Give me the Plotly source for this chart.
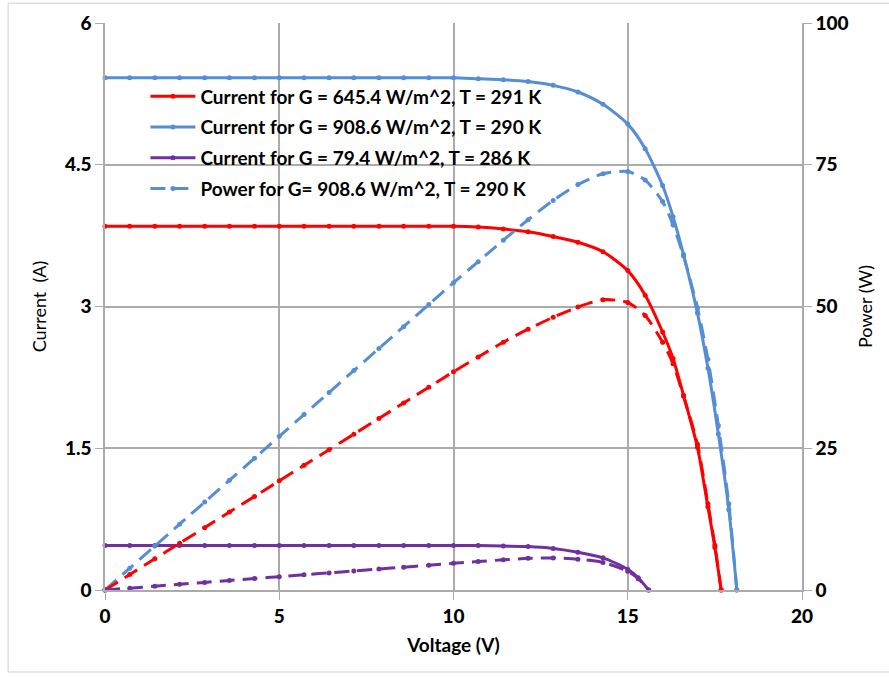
import plotly.graph_objects as go

# ---- data ----
v_grid = [0, 0.71, 1.43, 2.14, 2.86, 3.57, 4.29, 5.0, 5.71, 6.43, 7.14, 7.86, 8.57,
          9.29, 10.0, 10.71, 11.43, 12.14, 12.86, 13.57, 14.29, 15.0]

# Blue: G = 908.6 W/m^2, T = 290 K
v_blue = v_grid + [15.5, 16.0, 16.3, 16.6, 17.0, 17.3, 17.6, 17.9, 18.13]
i_blue = [5.42] * 15 + [5.41, 5.40, 5.38, 5.34, 5.27, 5.14, 4.93,
                        4.67, 4.28, 3.95, 3.55, 2.93, 2.35, 1.65, 0.85, 0.0]
p_blue = [0, 3.85, 7.75, 11.6, 15.5, 19.35, 23.25, 27.1, 30.95, 34.85, 38.7, 42.6,
          46.45, 50.35, 54.2, 57.9, 61.7, 65.3, 68.7, 71.5, 73.4, 73.8,
          72.3, 68.5, 64.4, 58.9, 49.8, 40.7, 29.0, 15.2, 0.0]

# Red: G = 645.4 W/m^2, T = 291 K
v_red = v_grid + [15.5, 16.0, 16.3, 16.6, 17.0, 17.3, 17.5, 17.68]
i_red = [3.85] * 15 + [3.84, 3.82, 3.79, 3.74, 3.68, 3.58, 3.38,
                       3.12, 2.73, 2.45, 2.06, 1.51, 0.88, 0.45, 0.0]
p_red = [0, 2.73, 5.51, 8.24, 11.0, 13.74, 16.5, 19.25, 21.98, 24.75, 27.49, 30.26,
         32.99, 35.77, 38.5, 41.1, 43.7, 46.0, 48.1, 49.9, 51.2, 50.7,
         48.4, 43.7, 39.9, 34.2, 25.7, 15.2, 7.9, 0.0]

# Purple: G = 79.4 W/m^2, T = 286 K
v_pur = v_grid + [15.3, 15.6]
i_pur = [0.47] * 16 + [0.465, 0.46, 0.44, 0.40, 0.34, 0.22, 0.13, 0.0]
p_pur = [0, 0.33, 0.67, 1.01, 1.34, 1.68, 2.02, 2.35, 2.68, 3.02, 3.36, 3.69,
         4.03, 4.37, 4.7, 5.03, 5.32, 5.58, 5.66, 5.43, 4.86, 3.3, 1.99, 0.0]

x_ticks = [0, 5, 10, 15, 20]
i_ticks = [0, 1.5, 3, 4.5, 6]
i_tick_labels = ["0", "1.5", "3", "4.5", "6"]
p_ticks = [0, 25, 50, 75, 100]

RED = "#FF0000"
BLUE = "#558ED5"
PURPLE = "#7030A0"
GRID = "#ababab"
FONT = "Lato"

fig = go.Figure()

def cur(x, y, color, name, grp):
    fig.add_trace(go.Scatter(
        x=x, y=y, mode="lines+markers", name=name, legendgroup=grp,
        line=dict(color=color, width=3, shape="spline", smoothing=0.7),
        marker=dict(color=color, size=5), cliponaxis=False))

def pwr(x, y, color, name, grp, show):
    fig.add_trace(go.Scatter(
        x=x, y=y, mode="lines+markers", name=name, legendgroup=grp, showlegend=show,
        yaxis="y2", line=dict(color=color, width=3, dash="15px,8px", shape="spline",
                              smoothing=0.7),
        marker=dict(color=color, size=5), cliponaxis=False))

cur(v_red, i_red, RED, "Current for G = 645.4 W/m^2, T = 291 K", "a")
cur(v_blue, i_blue, BLUE, "Current for G = 908.6 W/m^2, T = 290 K", "b")
cur(v_pur, i_pur, PURPLE, "Current for G = 79.4 W/m^2, T = 286 K", "c")
pwr(v_blue, p_blue, BLUE, "Power for G= 908.6 W/m^2, T = 290 K", "d", True)
pwr(v_red, p_red, RED, "Power red", "e", False)
pwr(v_pur, p_pur, PURPLE, "Power purple", "f", False)

tickfont = dict(family=FONT, size=19, color="#000000", weight=900)

fig.update_layout(
    width=889, height=677,
    margin=dict(l=105, r=87, t=23, b=87),
    paper_bgcolor="white", plot_bgcolor="white",
    font=dict(family=FONT, color="#000000"),
    showlegend=True,
    legend=dict(x=0.058, y=0.904, xanchor="left", yanchor="top",
                bgcolor="rgba(0,0,0,0)", font=dict(family=FONT, size=19, weight="bold"),
                tracegroupgap=3, itemwidth=45),
    xaxis=dict(range=[0, 20], tickvals=x_ticks, showgrid=True, gridcolor=GRID, gridwidth=1.5,
               showline=True, linecolor=GRID, linewidth=1.5, zeroline=False,
               ticks="outside", ticklen=8, tickcolor=GRID, tickfont=tickfont,
               title=dict(text="Voltage (V)", font=dict(family=FONT, size=19, weight="bold"),
                          standoff=13)),
    yaxis=dict(range=[0, 6], tickvals=i_ticks, ticktext=i_tick_labels, showgrid=True,
               gridcolor=GRID, gridwidth=1.5, showline=True, linecolor=GRID, linewidth=1.5,
               zeroline=False, ticks="outside", ticklen=8, tickcolor=GRID, tickfont=tickfont,
               title=dict(text="Current  (A)", font=dict(family=FONT, size=18), standoff=14)),
    yaxis2=dict(range=[0, 100], tickvals=p_ticks, overlaying="y", side="right",
                showgrid=False, showline=True, linecolor=GRID, linewidth=1.5, zeroline=False,
                ticks="outside", ticklen=8, tickcolor=GRID, tickfont=tickfont,
                title=dict(text="Power (W)", font=dict(family=FONT, size=18), standoff=12)),
    shapes=[dict(type="rect", xref="paper", yref="paper",
                 x0=-0.139, x1=1.13, y0=-0.1446, y1=1.035,
                 line=dict(color="#d0d0d0", width=1), fillcolor="rgba(0,0,0,0)", layer="below")],
)

fig.write_html("out.html")
